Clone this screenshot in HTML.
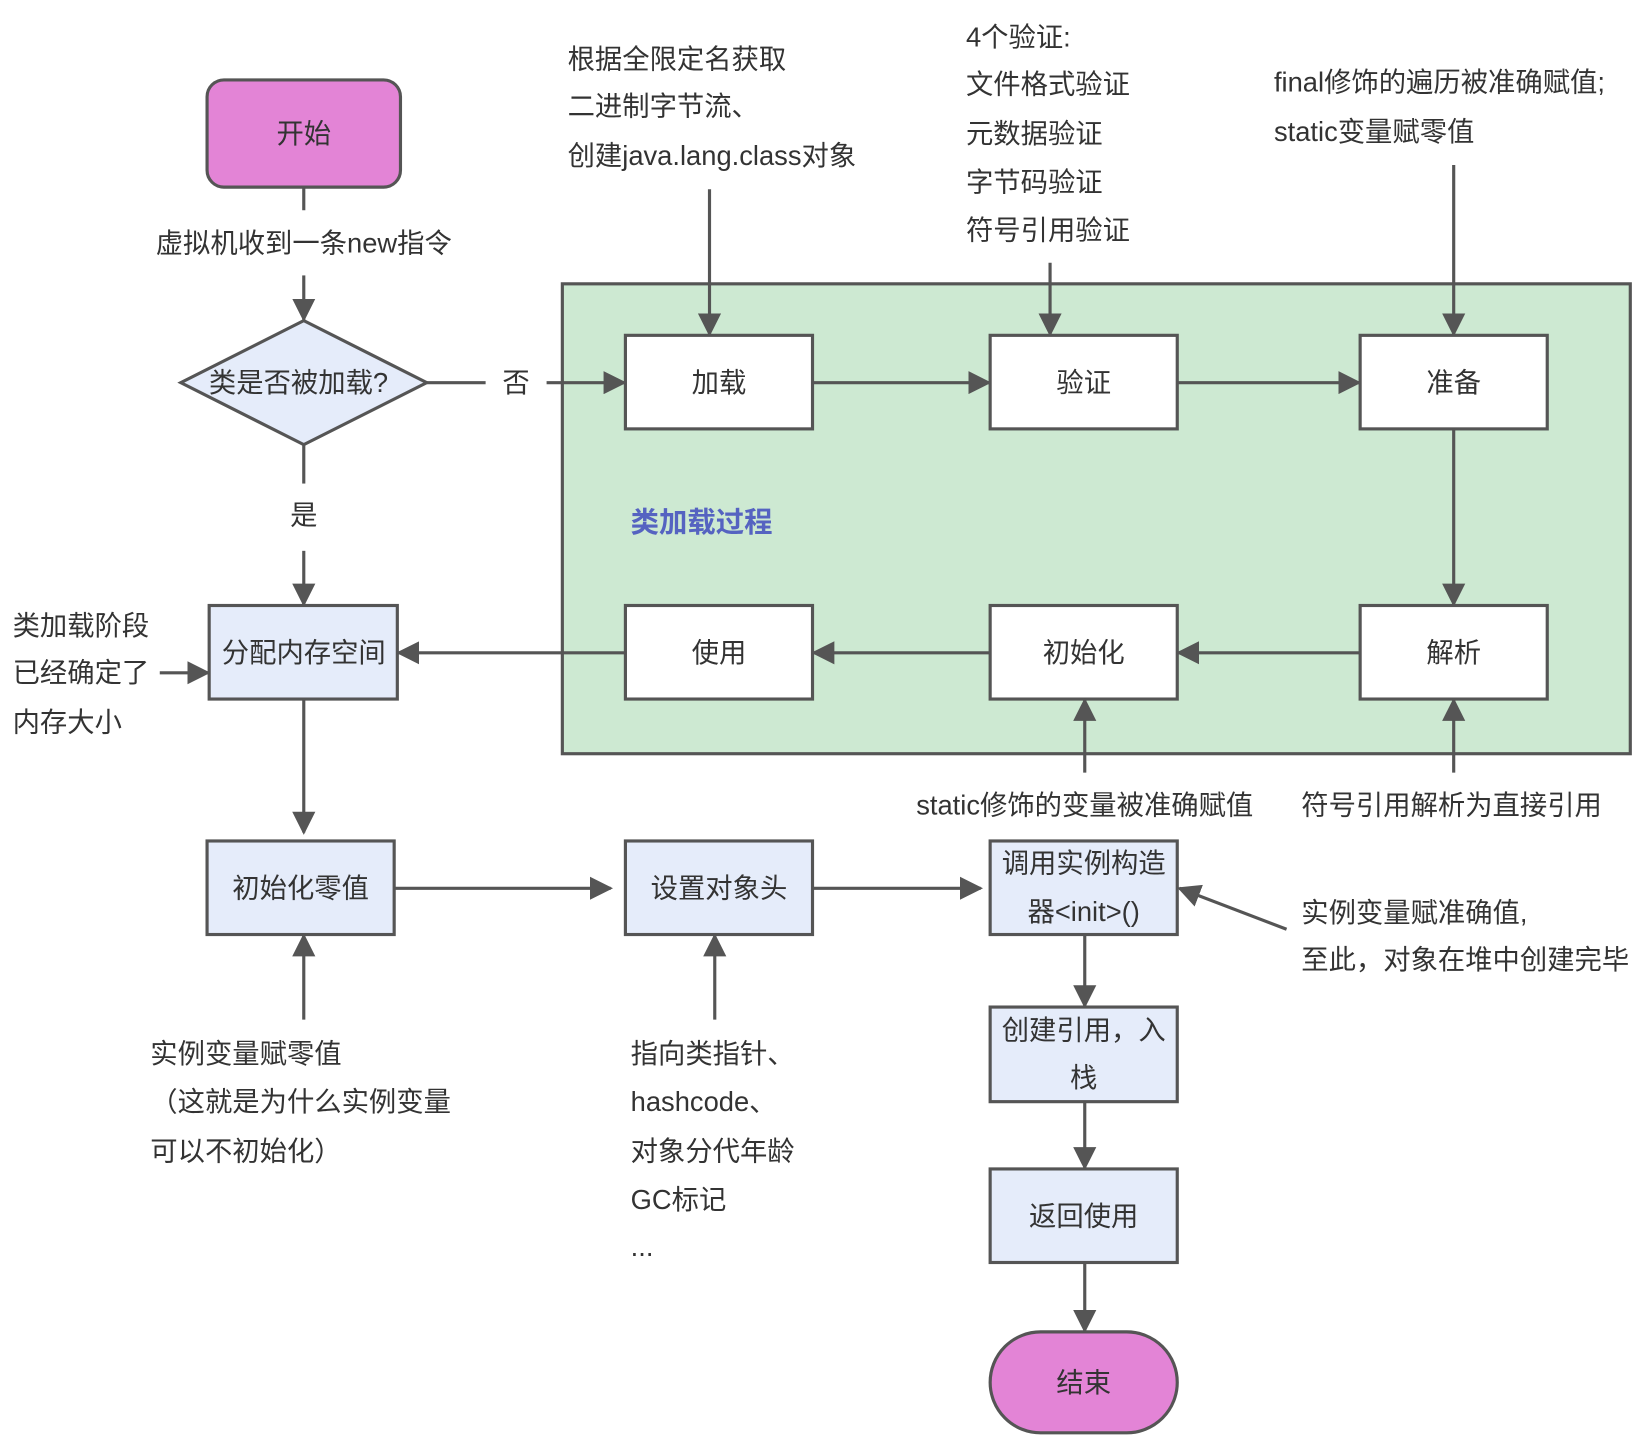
<!DOCTYPE html>
<html><head><meta charset="utf-8"><style>
html,body{margin:0;padding:0;background:#fff;}
svg{display:block;}
text{font-family:"Liberation Sans","Noto Sans CJK SC",sans-serif;font-size:26px;fill:#333;}
.c{text-anchor:middle;}
</style></head><body>
<svg width="1645" height="1437" viewBox="0 0 1565 1367" preserveAspectRatio="none" xmlns="http://www.w3.org/2000/svg">
<defs><marker id="a" viewBox="0 0 10 10" refX="9" refY="5" markerWidth="6" markerHeight="6" orient="auto" markerUnits="userSpaceOnUse"><path d="M0,0 L10,5 L0,10 z" fill="#555"/></marker>
<marker id="b" viewBox="0 0 10 10" refX="9" refY="5" markerWidth="22" markerHeight="22" orient="auto" markerUnits="userSpaceOnUse"><path d="M0,0 L10,5 L0,10 z" fill="#555"/></marker></defs>
<g stroke="#555" stroke-width="3" fill="none">
<rect x="535" y="270" width="1016" height="447" fill="#cde9d2"/>
<rect x="197" y="76" width="184" height="102" rx="16" fill="#e384d6"/>
<polygon points="172,364 289,305 406,364 289,423" fill="#e5ecfa"/>
<rect x="595" y="319" width="178" height="89" fill="#fff"/>
<rect x="942" y="319" width="178" height="89" fill="#fff"/>
<rect x="1294" y="319" width="178" height="89" fill="#fff"/>
<rect x="595" y="576" width="178" height="89" fill="#fff"/>
<rect x="942" y="576" width="178" height="89" fill="#fff"/>
<rect x="1294" y="576" width="178" height="89" fill="#fff"/>
<rect x="199" y="576" width="179" height="89" fill="#e5ecfa"/>
<rect x="197" y="800" width="178" height="89" fill="#e5ecfa"/>
<rect x="595" y="800" width="178" height="89" fill="#e5ecfa"/>
<rect x="942" y="800" width="178" height="89" fill="#e5ecfa"/>
<rect x="942" y="958" width="178" height="90" fill="#e5ecfa"/>
<rect x="942" y="1112" width="178" height="89" fill="#e5ecfa"/>
<rect x="942" y="1267" width="178" height="96" rx="48" fill="#e384d6"/>
<line x1="289" y1="178" x2="289" y2="200"/>
<line x1="289" y1="262" x2="289" y2="304" marker-end="url(#b)"/>
<line x1="406" y1="364" x2="462" y2="364"/>
<line x1="520" y1="364" x2="594" y2="364" marker-end="url(#b)"/>
<line x1="289" y1="423" x2="289" y2="460"/>
<line x1="289" y1="524" x2="289" y2="575" marker-end="url(#b)"/>
<line x1="152" y1="640" x2="198" y2="640" marker-end="url(#b)"/>
<line x1="773" y1="364" x2="941" y2="364" marker-end="url(#b)"/>
<line x1="1120" y1="364" x2="1293" y2="364" marker-end="url(#b)"/>
<line x1="1383" y1="408" x2="1383" y2="575" marker-end="url(#b)"/>
<line x1="1294" y1="621" x2="1121" y2="621" marker-end="url(#b)"/>
<line x1="942" y1="621" x2="774" y2="621" marker-end="url(#b)"/>
<line x1="595" y1="621" x2="379" y2="621" marker-end="url(#b)"/>
<line x1="675" y1="180" x2="675" y2="318" marker-end="url(#b)"/>
<line x1="999" y1="250" x2="999" y2="318" marker-end="url(#b)"/>
<line x1="1383" y1="157" x2="1383" y2="318" marker-end="url(#b)"/>
<line x1="1032" y1="735" x2="1032" y2="666" marker-end="url(#b)"/>
<line x1="1383" y1="735" x2="1383" y2="666" marker-end="url(#b)"/>
<line x1="289" y1="665" x2="289" y2="792" marker-end="url(#b)"/>
<line x1="375" y1="845" x2="581" y2="845" marker-end="url(#b)"/>
<line x1="773" y1="845" x2="933" y2="845" marker-end="url(#b)"/>
<line x1="1224" y1="884" x2="1122" y2="845" marker-end="url(#b)"/>
<line x1="289" y1="970" x2="289" y2="890" marker-end="url(#b)"/>
<line x1="680" y1="970" x2="680" y2="890" marker-end="url(#b)"/>
<line x1="1032" y1="889" x2="1032" y2="957" marker-end="url(#b)"/>
<line x1="1032" y1="1048" x2="1032" y2="1111" marker-end="url(#b)"/>
<line x1="1032" y1="1201" x2="1032" y2="1266" marker-end="url(#b)"/>
</g>
<text class="c" x="289" y="136">开始</text>
<text class="c" x="289" y="240">虚拟机收到一条new指令</text>
<text class="c" x="284" y="373">类是否被加载?</text>
<text class="c" x="491" y="373">否</text>
<text class="c" x="289" y="499">是</text>
<text class="c" x="684" y="373">加载</text>
<text class="c" x="1031" y="373">验证</text>
<text class="c" x="1383" y="373">准备</text>
<text class="c" x="684" y="630">使用</text>
<text class="c" x="1031" y="630">初始化</text>
<text class="c" x="1383" y="630">解析</text>
<text class="c" x="289" y="630">分配内存空间</text>
<text x="600" y="506" style="fill:#5563c1;font-weight:bold;font-size:27px">类加载过程</text>
<text x="12" y="604">类加载阶段</text>
<text x="12" y="649">已经确定了</text>
<text x="12" y="696">内存大小</text>
<text x="540" y="65">根据全限定名获取</text>
<text x="540" y="110">二进制字节流、</text>
<text x="540" y="157">创建java.lang.class对象</text>
<text x="919" y="44">4个验证:</text>
<text x="919" y="89">文件格式验证</text>
<text x="919" y="136">元数据验证</text>
<text x="919" y="182">字节码验证</text>
<text x="919" y="228">符号引用验证</text>
<text x="1212" y="87">final修饰的遍历被准确赋值;</text>
<text x="1212" y="134">static变量赋零值</text>
<text class="c" x="1032" y="775">static修饰的变量被准确赋值</text>
<text x="1238" y="775">符号引用解析为直接引用</text>
<text class="c" x="286" y="854">初始化零值</text>
<text class="c" x="684" y="854">设置对象头</text>
<text class="c" x="1031" y="830">调用实例构造</text>
<text class="c" x="1031" y="876">器&lt;init&gt;()</text>
<text x="1238" y="877">实例变量赋准确值,</text>
<text x="1238" y="922">至此，对象在堆中创建完毕</text>
<text x="143" y="1011">实例变量赋零值</text>
<text x="143" y="1057">（这就是为什么实例变量</text>
<text x="143" y="1104">可以不初始化）</text>
<text x="600" y="1011">指向类指针、</text>
<text x="600" y="1057">hashcode、</text>
<text x="600" y="1104">对象分代年龄</text>
<text x="600" y="1150">GC标记</text>
<text x="600" y="1195">...</text>
<text class="c" x="1031" y="989">创建引用，入</text>
<text class="c" x="1031" y="1034">栈</text>
<text class="c" x="1031" y="1166">返回使用</text>
<text class="c" x="1031" y="1324">结束</text>
</svg>
</body></html>
